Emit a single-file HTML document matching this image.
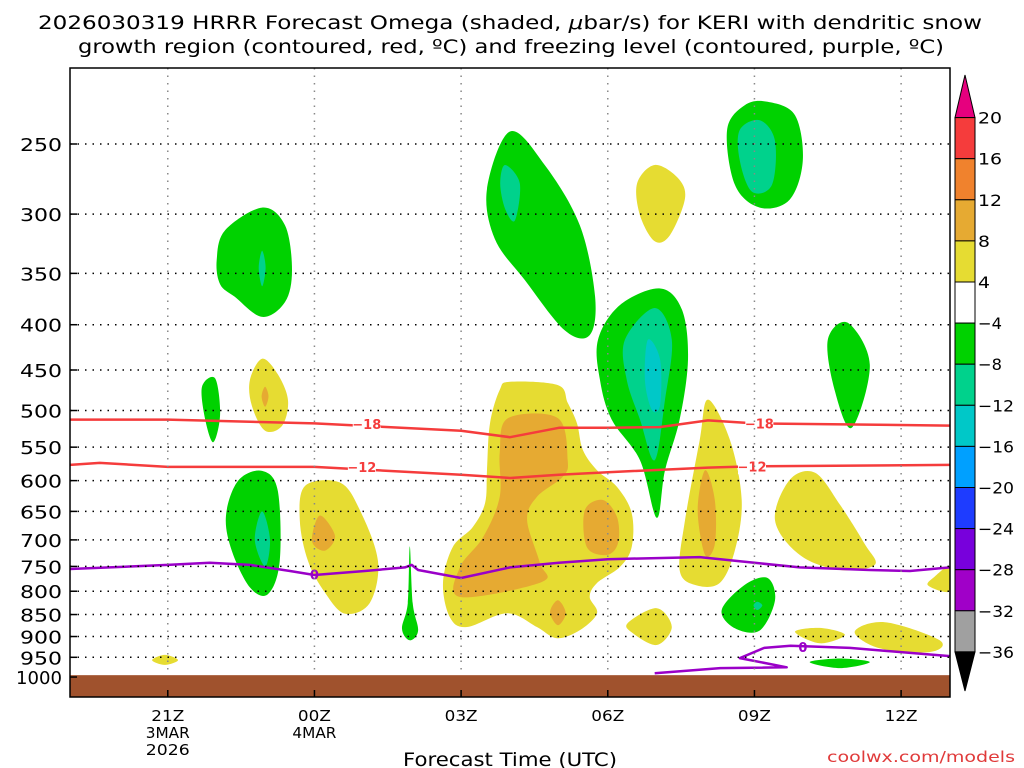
<!DOCTYPE html>
<html><head><meta charset="utf-8"><style>
html,body{margin:0;padding:0;background:#fff;width:1024px;height:768px;overflow:hidden}
svg{display:block;font-family:"DejaVu Sans","Liberation Sans",sans-serif}
</style></head><body>
<svg id="chart" width="1024" height="768" viewBox="0 0 1024 768" xmlns="http://www.w3.org/2000/svg">
<text x="38" y="29" textLength="944" lengthAdjust="spacingAndGlyphs" font-size="19" fill="#000">2026030319 HRRR Forecast Omega (shaded, <tspan font-style="italic">μ</tspan>bar/s) for KERI with dendritic snow</text>
<text x="78" y="53" textLength="866" lengthAdjust="spacingAndGlyphs" font-size="19" fill="#000">growth region (contoured, red, ºC) and freezing level (contoured, purple, ºC)</text>
<g id="plot"></g>
<text x="403" y="766" textLength="214" lengthAdjust="spacingAndGlyphs" font-size="19" fill="#000">Forecast Time (UTC)</text>
<text x="827" y="762" textLength="188" lengthAdjust="spacingAndGlyphs" font-size="15" fill="#e03a3a">coolwx.com/models</text>
<g id="cbar"></g>
</svg>
<script>
const NS="http://www.w3.org/2000/svg";
// ---- data ----
const pressureTicks=[250,300,350,400,450,500,550,600,650,700,750,800,850,900,950,1000];
const timeTickHours=[2,5,8,11,14,17];
const timeTickLabels=[["21Z","3MAR","2026"],["00Z","4MAR"],["03Z"],["06Z"],["09Z"],["12Z"]];
const cbarLabels=[20,16,12,8,4,-4,-8,-12,-16,-20,-24,-28,-32,-36];
const cbarColors=["#f53c3c","#f0822d","#e6aa32","#e6dc32","#ffffff","#00d200","#00d28c","#00c8c8","#00a0ff","#1e3cff","#7800dc","#a000c8","#a0a0a0"];
// omega regions: [hour, pressure]
const yellowRegions=[
 [[3.93,437],[4.25,455],[4.46,487],[4.34,520],[3.99,527],[3.72,494],[3.68,462]],
 [[4.81,608],[5.52,603],[5.93,648],[6.30,740],[6.13,825],[5.62,848],[5.21,802],[4.87,740],[4.70,665]],
 [[11.96,264],[12.43,273],[12.58,288],[12.27,317],[11.96,322],[11.66,301],[11.6,277]],
 [[9.0,464],[9.98,468],[10.18,490],[10.37,517],[10.49,554],[10.78,584],[11.19,610],[11.49,653],[11.49,713],[11.25,751],[10.78,783],[10.63,812],[10.78,847],[10.43,885],[9.96,904],[9.55,878],[8.94,847],[8.12,878],[7.77,856],[7.63,783],[7.83,713],[8.24,677],[8.49,636],[8.53,584],[8.59,517],[8.79,474]],
 [[11.41,869],[12.0,836],[12.31,878],[12.0,920],[11.51,892]],
 [[13.05,486],[13.5,540],[13.74,631],[13.6,719],[13.29,783],[12.78,787],[12.47,757],[12.58,665],[12.88,540]],
 [[14.72,599],[15.24,588],[15.75,639],[16.26,708],[16.46,747],[15.75,757],[14.93,728],[14.42,665]],
 [[14.83,889],[15.34,880],[15.85,896],[15.34,916]],
 [[16.05,889],[16.67,867],[17.79,909],[17.59,937],[16.56,928]],
 [[18,750],[17.69,770],[17.55,788],[18,800]],
 [[1.68,957],[1.94,944],[2.21,957],[1.94,969]]
];
const orangeRegions=[
 [[3.99,470],[4.06,482],[3.99,495],[3.92,482]],
 [[5.11,657],[5.42,693],[5.21,720],[4.95,702]],
 [[8.96,510],[9.98,510],[10.18,569],[10.08,594],[9.55,626],[9.35,665],[9.61,743],[9.65,781],[7.98,812],[7.98,751],[8.45,695],[8.79,626],[8.79,558]],
 [[10.53,648],[10.90,631],[11.19,660],[11.21,706],[10.98,728],[10.57,713]],
 [[9.98,819],[10.14,847],[9.98,874],[9.82,845]],
 [[12.99,584],[13.19,631],[13.19,708],[12.99,728],[12.84,648]]
];
const greenRegions=[
 [[3.0,338],[3.17,313],[3.93,295],[4.40,309],[4.54,347],[4.40,377],[3.93,392],[3.37,372],[3.07,360]],
 [[2.70,470],[2.97,460],[3.07,505],[2.93,543],[2.76,510]],
 [[3.44,600],[3.93,585],[4.25,616],[4.29,740],[4.05,806],[3.68,792],[3.31,720],[3.19,657]],
 [[6.95,712],[7.01,825],[7.12,886],[6.95,909],[6.79,882],[6.91,825]],
 [[9.0,242],[9.71,264],[10.43,309],[10.74,372],[10.63,411],[10.12,406],[9.30,356],[8.69,320],[8.53,281]],
 [[10.80,416],[11.25,380],[12.07,364],[12.52,385],[12.64,438],[12.47,512],[12.17,584],[12.0,661],[11.66,569],[11.08,512],[10.84,462]],
 [[13.44,241],[13.80,226],[14.27,224],[14.83,232],[14.99,261],[14.72,289],[14.11,295],[13.60,278]],
 [[15.50,416],[15.91,398],[16.36,444],[15.99,523],[15.64,474]],
 [[13.33,840],[13.80,787],[14.27,773],[14.42,819],[14.11,886],[13.60,881]],
 [[15.13,962],[15.75,953],[16.36,962],[15.75,977]]
];
const tealRegions=[
 [[3.93,330],[4.0,345],[3.93,362],[3.86,345]],
 [[3.93,650],[4.09,700],[3.99,750],[3.78,700]],
 [[8.9,264],[9.2,277],[9.1,305],[8.9,296],[8.8,277]],
 [[11.35,416],[11.96,383],[12.31,416],[12.17,486],[11.96,569],[11.66,512],[11.39,462]],
 [[13.70,241],[14.11,235],[14.42,248],[14.36,278],[13.95,283],[13.70,261]],
 [[14.06,822],[14.16,830],[14.06,840],[13.98,830]]
];
const cyanRegions=[
 [[11.82,416],[12.07,438],[12.07,493],[11.90,499],[11.76,462]]
];
// temperature contours
const m18Hours=[0,2,5,8,9,10,11,12.06,13.05,14,18];
const m18Press=[512,512,517,527,536,523,523,522,513,517,520];
const m12Hours=[0,0.61,2,5,8,9,10,11,13.05,14,18];
const m12Press=[576,573,579,579,591,596,591,587,580,578,576];
const zeroHours=[0,2,2.86,3.68,4.5,5,6.03,6.85,6.99,7.12,8,9,10,11,12.88,14,14.93,16.36,17.18,18];
const zeroPress=[755,747,743,747,759,767,759,752,747,757,773,752,743,736,732,743,752,757,759,752];
const zero2Hours=[11.96,13.3,14.66,13.7,14.2,14.74,15.95,16.97,18];
const zero2Press=[990,977,975,952,927,922,927,937,947];
// ---- axes ----
const X0=70,X1=950,Y0=68,Y1=697,HMAX=18;
const PT=250,YT=144,K=384.5;
function xs(h){return X0+(X1-X0)*h/HMAX;}
function ys(p){return YT+K*Math.log(p/PT);}
const plot=document.getElementById('plot');
function el(tag,attrs,parent){const e=document.createElementNS(NS,tag);for(const k in attrs)e.setAttribute(k,attrs[k]);(parent||plot).appendChild(e);return e;}
function smoothPath(pts){
 const P=pts.map(d=>[xs(d[0]),ys(d[1])]);const n=P.length;let s="M"+P[0][0].toFixed(1)+","+P[0][1].toFixed(1);
 for(let i=0;i<n;i++){const p0=P[(i-1+n)%n],p1=P[i],p2=P[(i+1)%n],p3=P[(i+2)%n];
  const c1=[p1[0]+(p2[0]-p0[0])/6,p1[1]+(p2[1]-p0[1])/6],c2=[p2[0]-(p3[0]-p1[0])/6,p2[1]-(p3[1]-p1[1])/6];
  s+="C"+c1.map(v=>v.toFixed(1))+" "+c2.map(v=>v.toFixed(1))+" "+p2[0].toFixed(1)+","+p2[1].toFixed(1);}
 return s+"Z";}
const clip=el('clipPath',{id:'pc'});el('rect',{x:X0,y:Y0,width:X1-X0,height:Y1-Y0},clip);
const g=el('g',{'clip-path':'url(#pc)'});
function drawRegions(arr,color,name){arr.forEach((r)=>{const p=el('path',{d:smoothPath(r),fill:color},g);
 
 });}
drawRegions(yellowRegions,'#e6dc32','omega-4-8-region');
drawRegions(orangeRegions,'#e6aa32','omega-8-12-region');
drawRegions(greenRegions,'#00d200','omega-minus4-minus8-region');
drawRegions(tealRegions,'#00d28c','omega-minus8-minus12-region');
drawRegions(cyanRegions,'#00c8c8','omega-minus12-minus16-region');
// ground
const gr=el('rect',{x:X0,y:ys(990)+2,width:X1-X0,height:Y1-ys(990)-2,fill:'#a0522d'},g);


// grid
pressureTicks.forEach(p=>{if(p<1000){const l=el('line',{x1:X0,x2:X1,y1:ys(p),y2:ys(p),stroke:'#000','stroke-width':1.5,'stroke-dasharray':'1.5,6'});
 
 }});
timeTickHours.forEach(h=>{const l=el('line',{x1:xs(h),x2:xs(h),y1:Y0,y2:ys(990),stroke:'#888','stroke-width':1.5,'stroke-dasharray':'1.5,6'});
 
 });
// contour lines
function line(hs,ps,color,name,w){const d=hs.map((h,i)=>(i?"L":"M")+xs(h).toFixed(1)+","+ys(ps[i]).toFixed(1)).join("");
 const p=el('path',{d:d,fill:'none',stroke:color,'stroke-width':w,'stroke-linejoin':'round'},g);
 
 }
line(m18Hours,m18Press,'#f53c3c','contour-minus18',2.5);
line(m12Hours,m12Press,'#f53c3c','contour-minus12',2.5);
line(zeroHours,zeroPress,'#9a00c8','freezing-level-0',2.5);
line(zero2Hours,zero2Press,'#9a00c8','freezing-level-0-lower',2.5);
function clabel(h,p,txt,color,name){const x=xs(h),y=ys(p);
 el('rect',{x:x-14,y:y-8,width:28,height:16,fill:'#fff'},g);
 const t=el('text',{x:x,y:y+5,'text-anchor':'middle','font-size':13,'font-weight':'bold',fill:color},g);t.textContent=txt;
 
 }
function clabel0(h,p,name){const t=el('text',{x:xs(h),y:ys(p)+5,'text-anchor':'middle','font-size':13,'font-weight':'bold',fill:'#9a00c8'},g);t.textContent='0';
 
 }
clabel(6.07,518,'−18','#f53c3c','label-minus18-a');
clabel(14.1,517,'−18','#f53c3c','label-minus18-b');
clabel(5.97,579,'−12','#f53c3c','label-minus12-a');
clabel(13.95,578,'−12','#f53c3c','label-minus12-b');
clabel0(5.0,766,'label-zero-a');
clabel0(14.99,925,'label-zero-b');
// frame
const fr=el('rect',{x:X0,y:Y0,width:X1-X0,height:Y1-Y0,fill:'none',stroke:'#000','stroke-width':1.5});


// y ticks
pressureTicks.forEach(p=>{const y=ys(p);el('line',{x1:X0,x2:X0+7,y1:y,y2:y,stroke:'#000','stroke-width':1.5});
 const w=String(p).length===4?46:42;
 const t=el('text',{x:62-w,y:y+7,textLength:w,lengthAdjust:'spacingAndGlyphs','font-size':18,fill:'#000'});t.textContent=p;
 
 });
timeTickHours.forEach((h,i)=>{const x=xs(h);el('line',{x1:x,x2:x,y1:Y1,y2:Y1-7,stroke:'#000','stroke-width':1.5});
 timeTickLabels[i].forEach((s,j)=>{const w=s.length*11;
 const t=el('text',{x:x-w/2,y:721+j*17,textLength:w,lengthAdjust:'spacingAndGlyphs','font-size':15,fill:'#000'});t.textContent=s;
 
 });});
// colorbar
const cb=document.getElementById('cbar');const CX0=955,CX1=975,CT=117.6,CH=41.1;
const tri=el('polygon',{points:`${CX0},${CT} ${CX1},${CT} ${(CX0+CX1)/2},75`,fill:'#e6007e',stroke:'#000'},cb);


cbarColors.forEach((c,i)=>{const r=el('rect',{x:CX0,y:CT+i*CH,width:CX1-CX0,height:CH,fill:c,stroke:'#000'},cb);
 
 });
const tb=CT+cbarColors.length*CH;
const tri2=el('polygon',{points:`${CX0},${tb} ${CX1},${tb} ${(CX0+CX1)/2},691`,fill:'#000',stroke:'#000'},cb);


cbarLabels.forEach((v,i)=>{const s=v<0?'−'+(-v):String(v);const w=s.length*12;
 const t=el('text',{x:978,y:CT+i*CH+6,textLength:w,lengthAdjust:'spacingAndGlyphs','font-size':16,fill:'#000'},cb);t.textContent=s;
 
 });
</script>
</body></html>
